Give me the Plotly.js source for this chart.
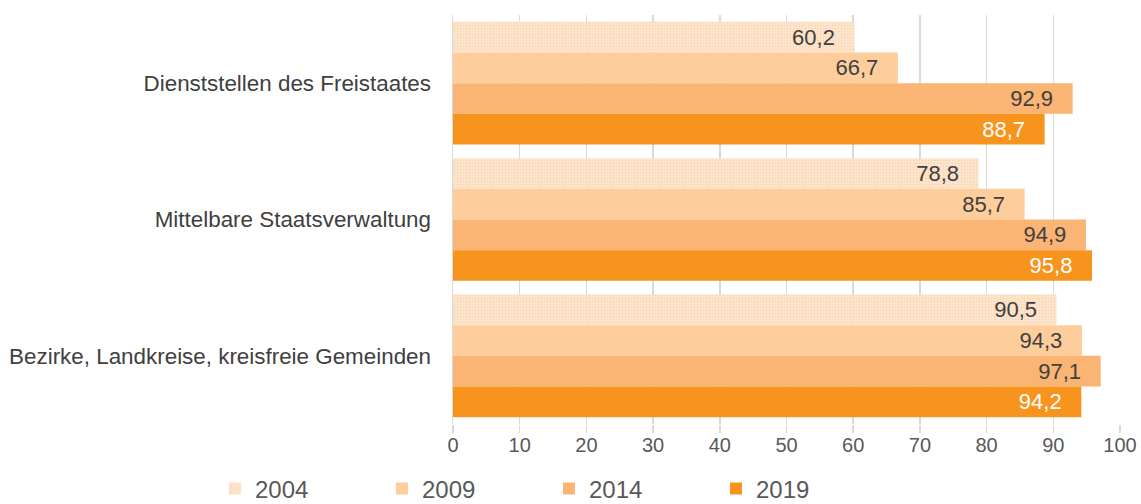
<!DOCTYPE html>
<html>
<head>
<meta charset="utf-8">
<script src="https://cdn.plot.ly/plotly-3.0.1.min.js"></script>
<style>
  html, body { margin: 0; padding: 0; background: #fff; }
  #chart { width: 1141px; height: 504px; }
</style>
</head>
<body>
<div id="chart"></div>
<script>
// Verwaltungsbereiche (von oben nach unten)
const categories = [
  'Dienststellen des Freistaates',
  'Mittelbare Staatsverwaltung',
  'Bezirke, Landkreise, kreisfreie Gemeinden'
];

const years = ['2004', '2009', '2014', '2019'];

// Anteile in Prozent je Jahr
const values2004 = [60.2, 78.8, 90.5];
const values2009 = [66.7, 85.7, 94.3];
const values2014 = [92.9, 94.9, 97.1];
const values2019 = [88.7, 95.8, 94.2];

const xTicks = [0, 10, 20, 30, 40, 50, 60, 70, 80, 90, 100];

const seriesValues = [values2004, values2009, values2014, values2019];
const colors = ['#fde4cb', '#fdcd9c', '#fab474', '#f7941d'];
const textColors = ['#404040', '#404040', '#404040', '#ffffff'];

const traces = years.map((year, i) => {
  const marker = { color: colors[i], line: { width: 0 } };
  if (i === 0) {
    // fein gesprenkelte Fläche für 2004
    marker.pattern = { shape: '.', size: 3, solidity: 0.15, fgcolor: '#f8d2ad', bgcolor: colors[i] };
  }
  return {
    type: 'bar',
    orientation: 'h',
    name: year,
    y: categories,
    x: seriesValues[i],
    marker: marker,
    texttemplate: '%{x:.1f}\u00a0\u00a0\u2009',
    textposition: 'inside',
    insidetextanchor: 'end',
    constraintext: 'none',
    textfont: { family: 'Liberation Sans, Arial, sans-serif', size: 22, color: textColors[i] },
    hoverinfo: 'skip',
    cliponaxis: false
  };
});

const layout = {
  width: 1141,
  height: 504,
  separators: ',.',
  paper_bgcolor: '#ffffff',
  plot_bgcolor: '#ffffff',
  margin: { l: 453, r: 21, t: 15, b: 80 },
  barmode: 'group',
  bargap: 0.1,
  bargroupgap: 0,
  font: { family: 'Liberation Sans, Arial, sans-serif', color: '#595959' },
  xaxis: {
    range: [0, 100],
    tickvals: xTicks,
    ticktext: xTicks.map(String),
    showgrid: true,
    gridcolor: '#d9d9d9',
    gridwidth: 1.5,
    zeroline: false,
    showline: false,
    ticks: 'outside',
    ticklen: 8,
    tickcolor: '#d9d9d9',
    tickwidth: 1.5,
    ticklabelstandoff: -5,
    tickfont: { size: 20, color: '#595959' },
    automargin: false,
    fixedrange: true
  },
  yaxis: {
    type: 'category',
    autorange: 'reversed',
    showgrid: false,
    zeroline: false,
    showline: true,
    linecolor: '#d9d9d9',
    linewidth: 1.5,
    ticks: '',
    ticklabelstandoff: 16,
    tickfont: { size: 22.4, color: '#404040' },
    automargin: false,
    fixedrange: true
  },
  showlegend: true,
  legend: {
    orientation: 'h',
    xref: 'container',
    yref: 'container',
    x: 0.1884,
    xanchor: 'left',
    y: 0.03,
    yanchor: 'middle',
    entrywidth: 122,
    entrywidthmode: 'pixels',
    itemwidth: 30,
    traceorder: 'normal',
    font: { size: 24, color: '#595959' },
    bgcolor: 'rgba(0,0,0,0)'
  }
};

Plotly.newPlot('chart', traces, layout, { displayModeBar: false, staticPlot: true });
</script>
</body>
</html>
